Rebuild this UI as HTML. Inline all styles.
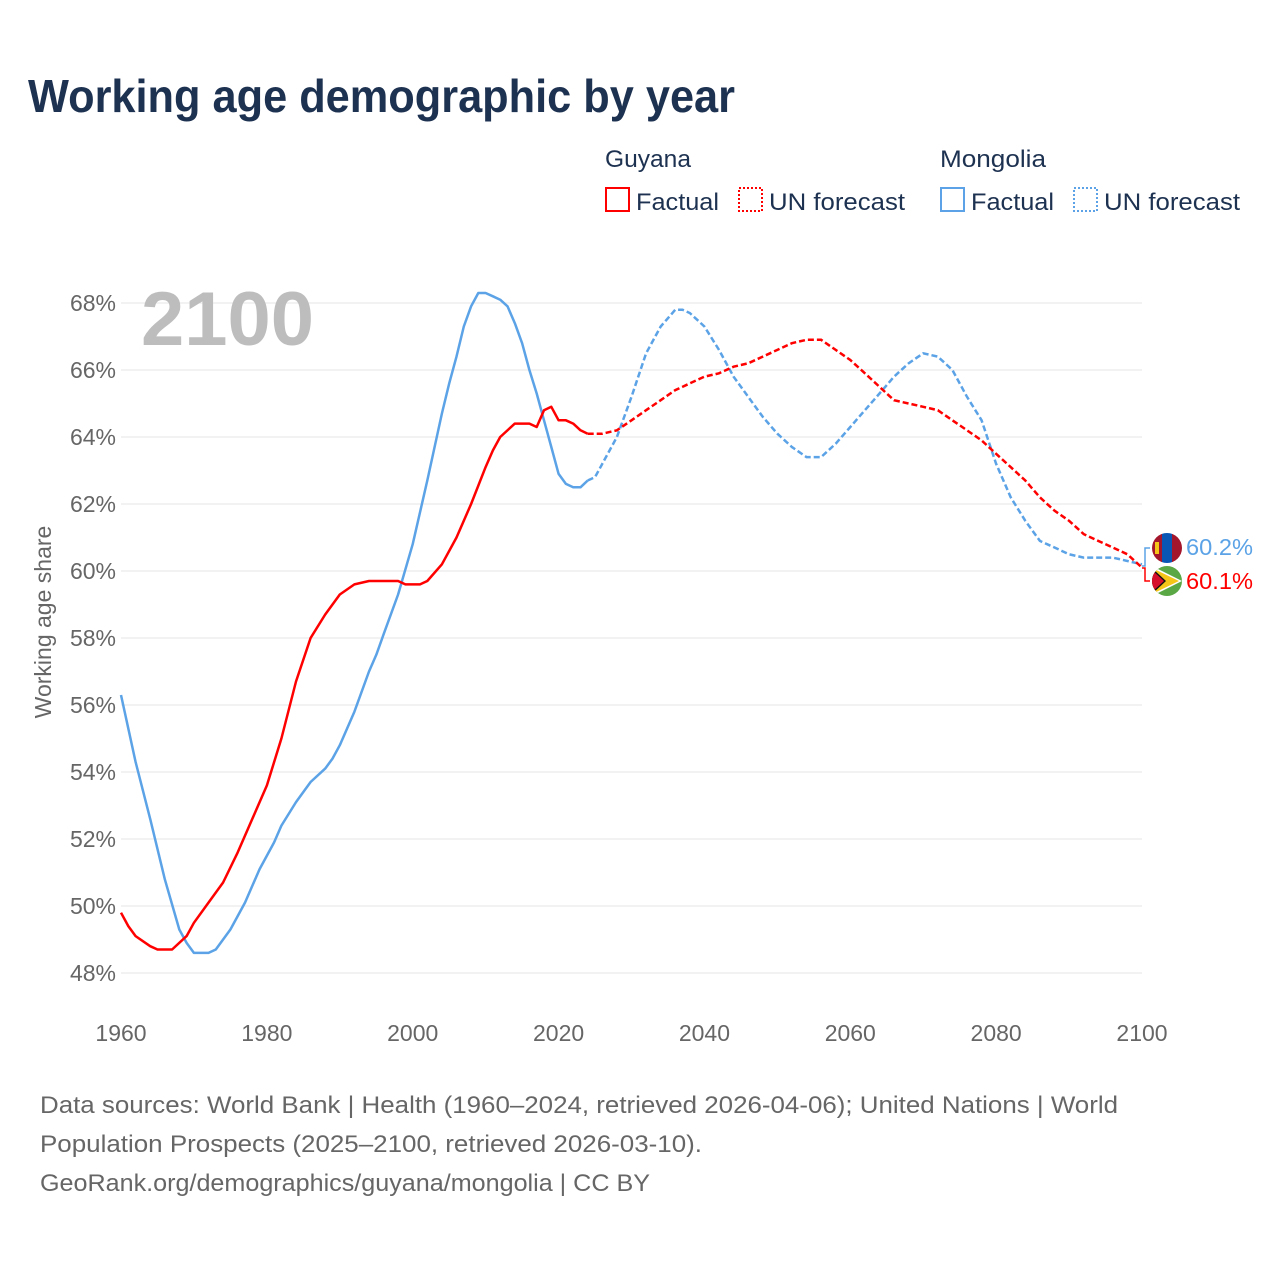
<!DOCTYPE html>
<html><head><meta charset="utf-8"><style>
body{margin:0;background:#fff}
svg{display:block;font-family:"Liberation Sans",sans-serif}
</style></head><body>
<svg id="chart" width="1280" height="1280" viewBox="0 0 1280 1280" xmlns="http://www.w3.org/2000/svg">
<text x="28" y="112" font-size="46" font-weight="bold" fill="#1d3150" textLength="707" lengthAdjust="spacingAndGlyphs">Working age demographic by year</text>
<g font-size="24" fill="#1d3150">
<text x="605" y="167" textLength="86" lengthAdjust="spacingAndGlyphs">Guyana</text>
<text x="940" y="167" textLength="106" lengthAdjust="spacingAndGlyphs">Mongolia</text>
<rect x="606" y="188" width="23" height="23" fill="none" stroke="#f00" stroke-width="2"/>
<text x="636" y="210" textLength="83" lengthAdjust="spacingAndGlyphs">Factual</text>
<rect x="739" y="188" width="23" height="23" fill="none" stroke="#f00" stroke-width="2" stroke-dasharray="2 2"/>
<text x="769" y="210" textLength="136" lengthAdjust="spacingAndGlyphs">UN forecast</text>
<rect x="941" y="188" width="23" height="23" fill="none" stroke="#5ba3e6" stroke-width="2"/>
<text x="971" y="210" textLength="83" lengthAdjust="spacingAndGlyphs">Factual</text>
<rect x="1074" y="188" width="23" height="23" fill="none" stroke="#5ba3e6" stroke-width="2" stroke-dasharray="2 2"/>
<text x="1104" y="210" textLength="136" lengthAdjust="spacingAndGlyphs">UN forecast</text>
</g>
<g id="grid"></g>
<text x="141" y="345" font-size="76" font-weight="bold" fill="#bdbdbd" textLength="173" lengthAdjust="spacingAndGlyphs">2100</text>
<text transform="translate(51,622) rotate(-90)" text-anchor="middle" font-size="23" fill="#666">Working age share</text>
<g id="series"></g>
<g>
<path d="M1142 566 H1145 V548 H1150" fill="none" stroke="#5ba3e6" stroke-width="1.5"/>
<path d="M1142 568 H1145 V581 H1150" fill="none" stroke="#f00" stroke-width="1.5"/>
<g>
<clipPath id="c1"><circle cx="1167" cy="548" r="15"/></clipPath>
<g clip-path="url(#c1)"><rect x="1152" y="533" width="10" height="30" fill="#a3162b"/><rect x="1162" y="533" width="10" height="30" fill="#0a56b4"/><rect x="1172" y="533" width="10" height="30" fill="#a3162b"/><rect x="1155" y="542" width="4" height="12" fill="#f5c518"/></g>
</g>
<g>
<clipPath id="c2"><circle cx="1167" cy="581" r="15"/></clipPath>
<g clip-path="url(#c2)"><rect x="1152" y="566" width="30" height="30" fill="#5aa845"/><path d="M1152 566 L1182 581 L1152 596Z" fill="#fff"/><path d="M1152 568 L1179 581 L1152 594Z" fill="#f5c518"/><path d="M1152 568 L1166 581 L1152 594Z" fill="#111"/><path d="M1152 570 L1164 581 L1152 592Z" fill="#d50f2b"/></g>
</g>
<text x="1186" y="555" font-size="23" fill="#5ba3e6" textLength="67" lengthAdjust="spacingAndGlyphs">60.2%</text>
<text x="1186" y="589" font-size="23" fill="#f00" textLength="67" lengthAdjust="spacingAndGlyphs">60.1%</text>
</g>
<g font-size="24" fill="#666">
<text x="40" y="1113" textLength="1078" lengthAdjust="spacingAndGlyphs">Data sources: World Bank | Health (1960–2024, retrieved 2026-04-06); United Nations | World</text>
<text x="40" y="1152" textLength="662" lengthAdjust="spacingAndGlyphs">Population Prospects (2025–2100, retrieved 2026-03-10).</text>
<text x="40" y="1191" textLength="610" lengthAdjust="spacingAndGlyphs">GeoRank.org/demographics/guyana/mongolia | CC BY</text>
</g>
</svg>
<script>
const yTicks=[48,50,52,54,56,58,60,62,64,66,68];
const xTicks=[1960,1980,2000,2020,2040,2060,2080,2100];
const guyanaYears=[1960,1961,1962,1964,1965,1967,1969,1970,1972,1974,1976,1978,1980,1982,1984,1986,1988,1990,1992,1994,1996,1998,1999,2001,2002,2004,2006,2008,2010,2011,2012,2014,2016,2017,2018,2019,2020,2021,2022,2023,2024,2026,2028,2030,2032,2034,2036,2038,2040,2042,2044,2046,2048,2050,2052,2054,2056,2058,2060,2062,2064,2066,2068,2070,2072,2074,2076,2078,2080,2082,2084,2086,2088,2090,2092,2094,2096,2098,2100];
const guyanaValues=[49.8,49.4,49.1,48.8,48.7,48.7,49.1,49.5,50.1,50.7,51.6,52.6,53.6,55.0,56.7,58.0,58.7,59.3,59.6,59.7,59.7,59.7,59.6,59.6,59.7,60.2,61.0,62.0,63.1,63.6,64.0,64.4,64.4,64.3,64.8,64.9,64.5,64.5,64.4,64.2,64.1,64.1,64.2,64.5,64.8,65.1,65.4,65.6,65.8,65.9,66.1,66.2,66.4,66.6,66.8,66.9,66.9,66.6,66.3,65.9,65.5,65.1,65.0,64.9,64.8,64.5,64.2,63.9,63.5,63.1,62.7,62.2,61.8,61.5,61.1,60.9,60.7,60.5,60.1];
const mongoliaYears=[1960,1962,1964,1966,1968,1969,1970,1972,1973,1975,1977,1979,1981,1982,1984,1986,1988,1989,1990,1992,1994,1995,1996,1998,2000,2002,2004,2005,2006,2007,2008,2009,2010,2011,2012,2013,2014,2015,2016,2017,2018,2019,2020,2021,2022,2023,2024,2025,2026,2028,2030,2032,2034,2036,2037,2038,2040,2042,2044,2046,2048,2050,2052,2054,2056,2058,2060,2062,2064,2066,2068,2070,2072,2074,2076,2078,2080,2082,2084,2086,2088,2090,2092,2094,2096,2098,2100];
const mongoliaValues=[56.3,54.3,52.6,50.8,49.3,48.9,48.6,48.6,48.7,49.3,50.1,51.1,51.9,52.4,53.1,53.7,54.1,54.4,54.8,55.8,57.0,57.5,58.1,59.3,60.8,62.7,64.7,65.6,66.4,67.3,67.9,68.3,68.3,68.2,68.1,67.9,67.4,66.8,66.0,65.3,64.5,63.7,62.9,62.6,62.5,62.5,62.7,62.8,63.2,64.0,65.2,66.5,67.3,67.8,67.8,67.7,67.3,66.6,65.8,65.2,64.6,64.1,63.7,63.4,63.4,63.8,64.3,64.8,65.3,65.8,66.2,66.5,66.4,66.0,65.2,64.5,63.2,62.2,61.5,60.9,60.7,60.5,60.4,60.4,60.4,60.3,60.2];
const lastFactual=2024;
const NS="http://www.w3.org/2000/svg";
function xs(y){return 121+(y-1960)*(1021/140);}
function ys(v){return 303+(68-v)*33.5;}
const grid=document.getElementById('grid');
for(const t of yTicks){
  const l=document.createElementNS(NS,'line');
  
  
  l.setAttribute('x1',121);l.setAttribute('x2',1142);l.setAttribute('y1',ys(t));l.setAttribute('y2',ys(t));
  l.setAttribute('stroke','#e6e6e6');l.setAttribute('stroke-width','1');
  grid.appendChild(l);
  const tx=document.createElementNS(NS,'text');
  
  
  tx.setAttribute('x',116);tx.setAttribute('y',ys(t)+8);tx.setAttribute('text-anchor','end');
  tx.setAttribute('font-size','23');tx.setAttribute('fill','#666');
  tx.textContent=t+'%';grid.appendChild(tx);
}
for(const t of xTicks){
  const tx=document.createElementNS(NS,'text');
  
  
  tx.setAttribute('x',xs(t));tx.setAttribute('y',1041);tx.setAttribute('text-anchor','middle');
  tx.setAttribute('font-size','23');tx.setAttribute('fill','#666');
  tx.textContent=t;grid.appendChild(tx);
}
const series=document.getElementById('series');
function draw(years,vals,color,name){
  const f=[],p=[];
  years.forEach((y,i)=>{const pt=xs(y).toFixed(1)+','+ys(vals[i]).toFixed(1);if(y<=lastFactual)f.push(pt);if(y>=lastFactual)p.push(pt);});
  const a=document.createElementNS(NS,'polyline');
  
  
  a.setAttribute('points',f.join(' '));a.setAttribute('fill','none');a.setAttribute('stroke',color);a.setAttribute('stroke-width','2.5');a.setAttribute('stroke-linejoin','round');
  series.appendChild(a);
  const b=document.createElementNS(NS,'polyline');
  
  
  b.setAttribute('points',p.join(' '));b.setAttribute('fill','none');b.setAttribute('stroke',color);b.setAttribute('stroke-width','2.5');b.setAttribute('stroke-dasharray','6 3');
  series.appendChild(b);
}
draw(mongoliaYears,mongoliaValues,'#5ba3e6','mongolia');
draw(guyanaYears,guyanaValues,'#f00','guyana');
</script>
</body></html>
